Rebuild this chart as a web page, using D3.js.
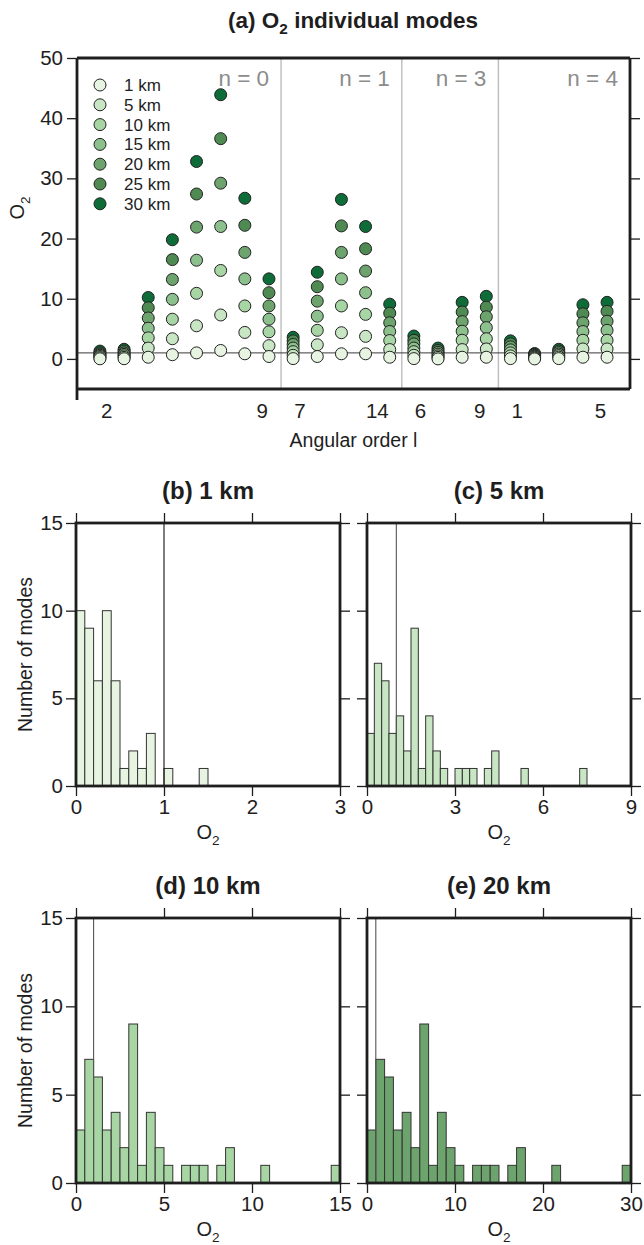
<!DOCTYPE html>
<html><head><meta charset="utf-8">
<script src="https://cdn.jsdelivr.net/npm/d3@7"></script>
<style>
html,body{margin:0;padding:0;background:#fff;}
svg{display:block;font-family:"Liberation Sans",Arial,Helvetica,sans-serif;}
</style></head>
<body>
<svg id="chart" width="644" height="1245"></svg>
<script>
// ---------------- DATA ----------------
const depths = ["1 km","5 km","10 km","15 km","20 km","25 km","30 km"];
const depthColors = ["#e6f4e1","#c8e5c4","#a8d5a4","#8cc08c","#6da46d","#4e8a52","#0d6c38"];

// modes (columns) of panel (a)
const modeN = [0,0,0,0,0,0,0,0, 1,1,1,1,1, 3,3,3,3, 4,4,4,4,4];
const modeLabel = ["2","","","","","","","9", "7","","","","14", "6","","","9", "1","","","","5"];
const groupNames = ["n = 0","n = 1","n = 3","n = 4"];

// O2 values per depth, one value per mode column
const o2_1km  = [0.02,0.03,0.28,0.7,1.0,1.4,0.85,0.4, 0.05,0.4,0.85,0.85,0.28, 0.05,0.0,0.28,0.28, 0.05,0.0,0.05,0.28,0.28];
const o2_5km  = [0.2,0.25,1.8,3.35,5.5,7.3,4.4,2.2, 0.6,2.35,4.35,3.75,1.55, 0.6,0.25,1.55,1.65, 0.5,0.15,0.3,1.65,1.65];
const o2_10km = [0.4,0.5,3.5,6.6,10.9,14.7,8.8,4.5, 1.2,4.75,8.8,7.4,3.05, 1.2,0.5,3.1,3.35, 1.0,0.3,0.55,3.1,3.1];
const o2_15km = [0.6,0.75,5.1,9.9,16.4,22.0,13.3,6.6, 1.8,7.1,13.3,11.0,4.55, 1.8,0.8,4.6,5.2, 1.5,0.45,0.8,4.55,4.75];
const o2_20km = [0.8,1.0,6.8,13.2,21.9,29.2,17.7,8.8, 2.4,9.6,17.7,14.6,6.0, 2.5,1.1,6.2,7.0, 2.0,0.6,1.05,6.0,6.25];
const o2_25km = [1.0,1.3,8.5,16.5,27.4,36.6,22.2,11.0, 3.0,12.0,22.1,18.3,7.6, 3.1,1.4,7.8,8.6, 2.5,0.75,1.3,7.5,7.9];
const o2_30km = [1.3,1.6,10.2,19.8,32.8,43.9,26.7,13.3, 3.6,14.4,26.5,22.0,9.1, 3.8,1.8,9.4,10.4, 3.0,0.9,1.6,9.0,9.4];
const o2Series = [o2_1km,o2_5km,o2_10km,o2_15km,o2_20km,o2_25km,o2_30km];

const yTicksA = [0,10,20,30,40,50];

// histograms: counts per bin
const hist1km  = [10,9,6,10,6,1,2,1,3,0,1,0,0,0,1,0,0,0,0,0,0,0,0,0,0,0,0,0,0,0];
const hist5km  = [3,7,6,3,4,2,9,1,4,2,1,0,1,1,1,0,1,2,0,0,0,1,0,0,0,0,0,0,0,1,0,0,0,0,0,0];
const hist10km = [3,7,6,3,4,2,9,1,4,2,1,0,1,1,1,0,1,2,0,0,0,1,0,0,0,0,0,0,0,1];
const hist20km = [3,7,6,3,4,2,9,1,4,2,1,0,1,1,1,0,1,2,0,0,0,1,0,0,0,0,0,0,0,1];
const histTitles = ["(b) 1 km","(c) 5 km","(d) 10 km","(e) 20 km"];
const histBinWidth = [0.1,0.25,0.5,1];
const histXMax = [3,9,15,30];
const histXTicks = [[0,1,2,3],[0,3,6,9],[0,5,10,15],[0,10,20,30]];
const histColorIdx = [0,1,2,4];
const histCounts = [hist1km,hist5km,hist10km,hist20km];
const histYTicks = [0,5,10,15];
const refLine = 1;

// ---------------- DRAW ----------------
const svg = d3.select("#chart");
const FRAME = "#1e1e1e";
const TICKFS = 20.5;

function subText(g, x, y, parts, opts) {
  const t = g.append("text").attr("x", x).attr("y", y)
    .attr("text-anchor", opts.anchor || "middle")
    .attr("font-size", opts.size).attr("font-weight", opts.weight || "normal")
    .attr("fill", opts.fill || "#1e1e1e");
  if (opts.rotate) t.attr("transform", `rotate(-90,${x},${y})`);
  parts.forEach(p => {
    const ts = t.append("tspan").text(p.t);
    if (p.sub) ts.attr("font-size", opts.size * 0.68).attr("dy", opts.size * 0.28);
    if (p.after) ts.attr("dy", -opts.size * 0.28);
  });
  return t;
}

// ===== Panel (a) =====
const aL = 77, aR = 630, aT = 58, aB = 389;
const xA = d3.scaleLinear().domain([-0.95, 21.95]).range([aL, aR]);
const yA = d3.scaleLinear().domain([-5, 50]).range([aB, aT]);
const gA = svg.append("g");

// group separators
const sepIdx = [];
for (let i = 1; i < modeN.length; i++) if (modeN[i] !== modeN[i-1]) sepIdx.push(i - 0.5);
gA.selectAll("line.sep").data(sepIdx).join("line")
  .attr("x1", d => xA(d)).attr("x2", d => xA(d)).attr("y1", aT).attr("y2", aB)
  .attr("stroke", "#bdbdbd").attr("stroke-width", 1.4);

// group labels
const sepBounds = sepIdx.concat([21.95]);
gA.selectAll("text.grp").data(groupNames).join("text")
  .attr("x", (d, i) => xA(sepBounds[i]) - 12).attr("y", 86)
  .attr("text-anchor", "end").attr("font-size", 22.5).attr("fill", "#8c8c8c").text(d => d);

// reference line O2 = 1
gA.append("line").attr("x1", aL).attr("x2", aR).attr("y1", yA(refLine)).attr("y2", yA(refLine))
  .attr("stroke", "#3a3a3a").attr("stroke-width", 1);

// dots: draw deepest first so shallow is on top
for (let k = o2Series.length - 1; k >= 0; k--) {
  gA.append("g").selectAll("circle").data(o2Series[k]).join("circle")
    .attr("cx", (d, i) => xA(i)).attr("cy", d => yA(d)).attr("r", 6)
    .attr("fill", depthColors[k]).attr("stroke", "#222").attr("stroke-width", 1);
}

// frame
gA.append("line").attr("x1", aL).attr("x2", aR).attr("y1", aT).attr("y2", aT).attr("stroke", FRAME).attr("stroke-width", 2.8);
gA.append("line").attr("x1", aL).attr("x2", aR).attr("y1", aB).attr("y2", aB).attr("stroke", FRAME).attr("stroke-width", 2.8);
gA.append("line").attr("x1", aR).attr("x2", aR).attr("y1", aT).attr("y2", aB).attr("stroke", FRAME).attr("stroke-width", 2.8);
gA.append("line").attr("x1", aL).attr("x2", aL).attr("y1", aT).attr("y2", aB + 11).attr("stroke", FRAME).attr("stroke-width", 2.8);

// y axis left
const axLA = gA.append("g").attr("transform", `translate(${aL},0)`)
  .call(d3.axisLeft(yA).tickValues(yTicksA).tickSize(10).tickPadding(4).tickFormat(d3.format("d")));
axLA.select(".domain").remove();
axLA.selectAll("line").attr("stroke", FRAME).attr("stroke-width", 1.3);
axLA.selectAll("text").attr("font-size", TICKFS).attr("fill", "#1e1e1e").attr("font-family", null);
// y axis right
const axRA = gA.append("g").attr("transform", `translate(${aR},0)`)
  .call(d3.axisRight(yA).tickValues(yTicksA).tickSize(10).tickFormat(""));
axRA.select(".domain").remove();
axRA.selectAll("line").attr("stroke", FRAME).attr("stroke-width", 1.3);

// x tick labels
gA.selectAll("text.xl").data(modeLabel.map((t, i) => ({t, i})).filter(d => d.t !== "")).join("text")
  .attr("x", d => xA(d.i) + (modeLabel[d.i - 1] === "" ? -1 : 1))
  .attr("y", 418)
  .attr("text-anchor", d => (d.i > 0 && modeN[d.i - 1] === modeN[d.i]) ? "end" : "start")
  .attr("font-size", TICKFS).attr("fill", "#1e1e1e").text(d => d.t);

// legend
const leg = gA.append("g");
depths.forEach((d, k) => {
  const ly = 85 + k * 19.8;
  leg.append("circle").attr("cx", 100).attr("cy", ly).attr("r", 6)
    .attr("fill", depthColors[k]).attr("stroke", "#222").attr("stroke-width", 1);
  leg.append("text").attr("x", 124).attr("y", ly + 6).attr("font-size", 17).attr("fill", "#1e1e1e").text(d);
});

// titles & labels
subText(svg, 353, 28, [{t:"(a) O"},{t:"2",sub:true},{t:" individual modes",after:true}], {size:22.5, weight:"bold"});
svg.append("text").attr("x", 353.5).attr("y", 447).attr("text-anchor", "middle").attr("font-size", 19.5).attr("fill", "#1e1e1e").text("Angular order l");
subText(svg, 24, 208, [{t:"O"},{t:"2",sub:true}], {size:20, rotate:true});

// ===== Histograms =====
const panels = [
  {l:76,  r:340, t:523, b:786},
  {l:367, r:631, t:523, b:786},
  {l:76,  r:340, t:918, b:1183},
  {l:367, r:631, t:918, b:1183}
];

panels.forEach((p, idx) => {
  const g = svg.append("g");
  const x = d3.scaleLinear().domain([0, histXMax[idx]]).range([p.l, p.r]);
  const y = d3.scaleLinear().domain([0, 15]).range([p.b, p.t]);
  const bw = histBinWidth[idx];
  const bins = histCounts[idx].map((c, i) => ({x0: i * bw, x1: (i + 1) * bw, c})).filter(d => d.c > 0);

  g.selectAll("rect").data(bins).join("rect")
    .attr("x", d => x(d.x0)).attr("width", d => x(d.x1) - x(d.x0))
    .attr("y", d => y(d.c)).attr("height", d => y(0) - y(d.c))
    .attr("fill", depthColors[histColorIdx[idx]]).attr("stroke", "#333").attr("stroke-width", 1);

  // reference line at O2 = 1
  g.append("line").attr("x1", x(refLine)).attr("x2", x(refLine)).attr("y1", p.t).attr("y2", p.b)
    .attr("stroke", idx === 0 ? "#111" : "#555").attr("stroke-width", 1.1);

  // frame
  g.append("rect").attr("x", p.l).attr("y", p.t).attr("width", p.r - p.l).attr("height", p.b - p.t)
    .attr("fill", "none").attr("stroke", FRAME).attr("stroke-width", 2.8);

  const styleAx = a => { a.select(".domain").remove(); a.selectAll("line").attr("stroke", FRAME).attr("stroke-width", 1.3);
    a.selectAll("text").attr("font-size", TICKFS).attr("fill", "#1e1e1e").attr("font-family", null); };

  const left = g.append("g").attr("transform", `translate(${p.l},0)`)
    .call(d3.axisLeft(y).tickValues(histYTicks).tickSize(10).tickPadding(3)
      .tickFormat(idx % 2 === 0 ? d3.format("d") : ""));
  styleAx(left);
  const right = g.append("g").attr("transform", `translate(${p.r},0)`)
    .call(d3.axisRight(y).tickValues(histYTicks).tickSize(10).tickFormat(""));
  styleAx(right);
  const top = g.append("g").attr("transform", `translate(0,${p.t})`)
    .call(d3.axisTop(x).tickValues(histXTicks[idx]).tickSize(10).tickFormat(""));
  styleAx(top);
  const bottom = g.append("g").attr("transform", `translate(0,${p.b})`)
    .call(d3.axisBottom(x).tickValues(histXTicks[idx]).tickSize(10).tickPadding(3).tickFormat(d3.format("d")));
  styleAx(bottom);

  const cx = (p.l + p.r) / 2;
  svg.append("text").attr("x", cx).attr("y", p.t - 24).attr("text-anchor", "middle")
    .attr("font-size", 24).attr("font-weight", "bold").attr("fill", "#1e1e1e").text(histTitles[idx]);
  subText(svg, cx, p.b + 53, [{t:"O"},{t:"2",sub:true}], {size:20});
  if (idx % 2 === 0) {
    svg.append("text").attr("x", 32).attr("y", (p.t + p.b) / 2).attr("text-anchor", "middle")
      .attr("transform", `rotate(-90,32,${(p.t + p.b) / 2})`)
      .attr("font-size", 19.5).attr("fill", "#1e1e1e").text("Number of modes");
  }
});
</script>
</body></html>
